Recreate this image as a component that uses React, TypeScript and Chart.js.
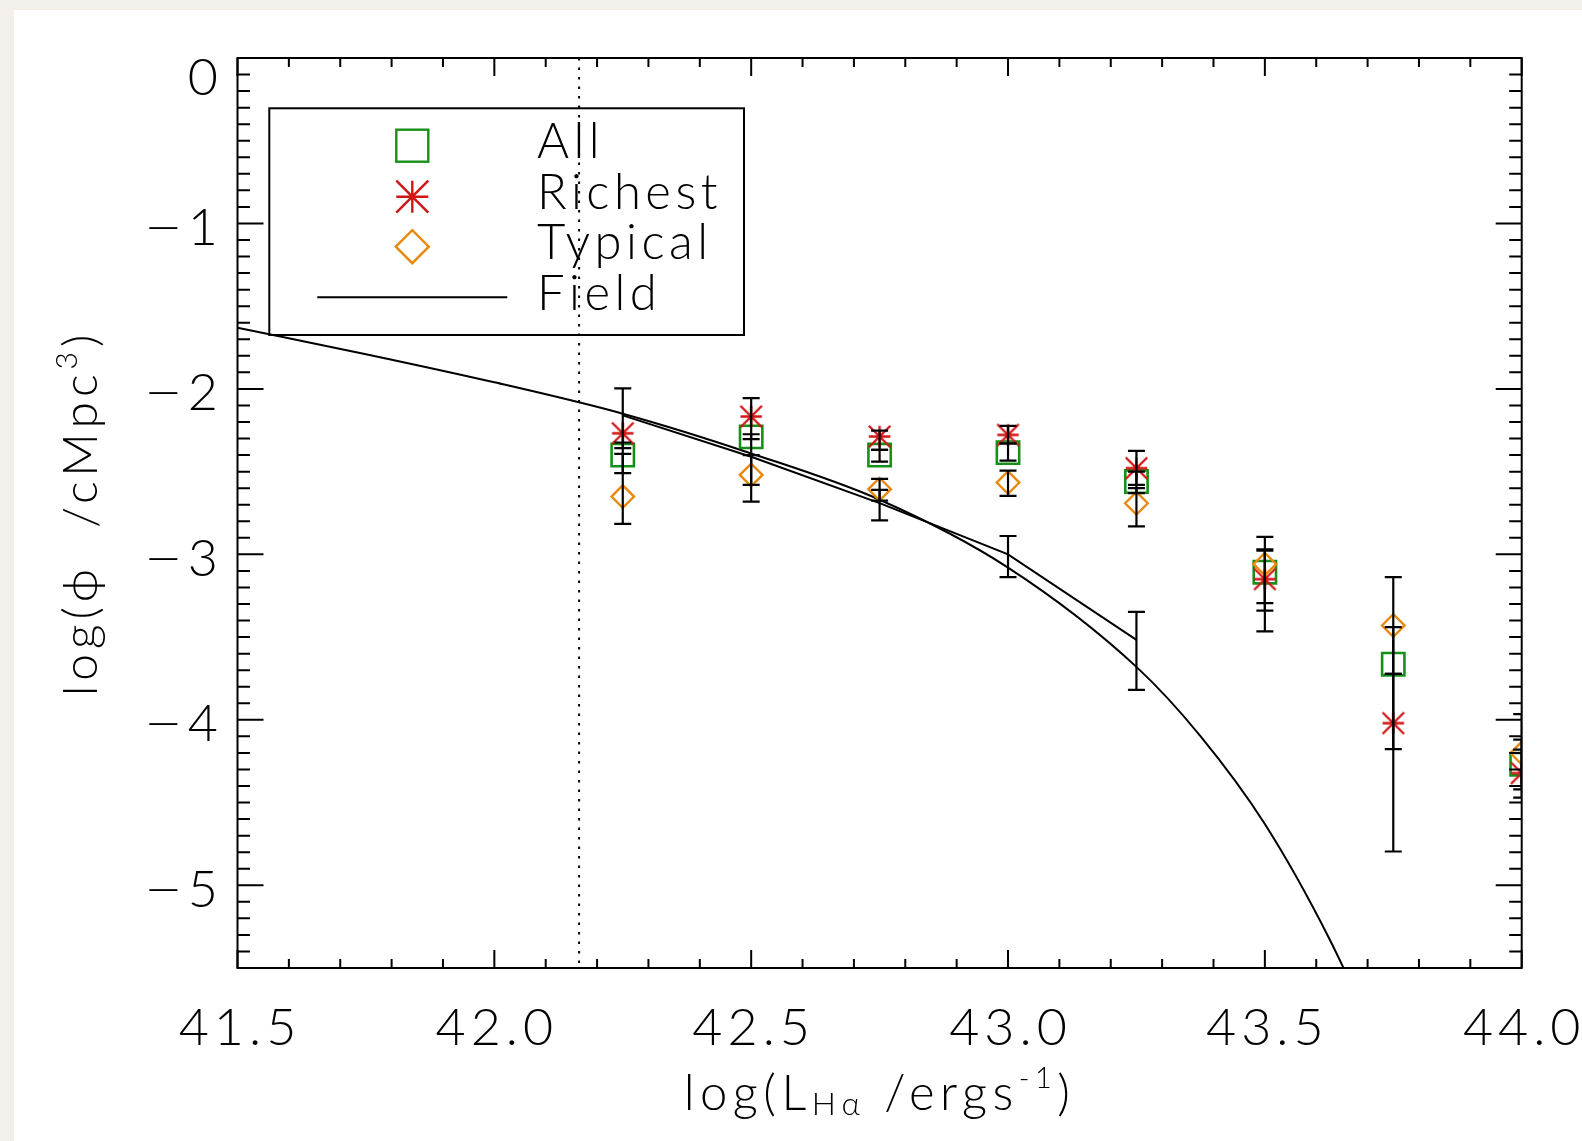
import { useEffect, useRef } from 'react';
import { Chart, registerables } from 'chart.js';

Chart.register(...registerables);

// ---------- data ----------
const binCentres = [42.25, 42.5, 42.75, 43.0, 43.25, 43.5, 43.75, 44.0];

const allValues = [-2.40, -2.29, -2.40, -2.385, -2.56, -3.108, -3.664, -4.268];
const allErrHigh = [-2.324, -2.274, -2.369, -2.33, -2.50, -2.969, -3.44, -4.12];
const allErrLow = [-2.509, -2.58, -2.439, -2.433, -2.63, -3.34, -4.177, -4.42];

const richestValues = [-2.268, -2.167, -2.288, -2.278, -2.479, -3.15, -4.02, -4.322];
const richestErrHigh = [-1.997, -2.056, -2.252, -2.224, -2.375, -2.977, -3.722, -4.18];
const richestErrLow = [-2.358, -2.304, -2.369, -2.33, -2.58, -3.466, -4.796, -4.47];

const typicalValues = [-2.651, -2.52, -2.606, -2.566, -2.691, -3.059, -3.43, -4.201];
const typicalErrHigh = [-2.393, -2.40, -2.544, -2.494, -2.60, -2.894, -3.138, -3.966];
const typicalErrLow = [-2.816, -2.681, -2.675, -2.647, -2.831, -3.295, -3.722, -4.40];

const fieldX = [42.25, 42.5, 42.75, 43.0, 43.25];
const fieldValues = [-2.16, -2.41, -2.69, -3.0, -3.517];
const fieldErrHigh = [null, null, -2.61, -2.889, -3.347];
const fieldErrLow = [null, null, -2.795, -3.137, -3.819];

const fitX = [41.5, 41.75, 42.0, 42.25, 42.5, 42.75, 43.0, 43.25, 43.375, 43.5, 43.625, 43.75];
const fitValues = [-1.63, -1.79, -1.96, -2.15, -2.39, -2.67, -3.08, -3.68, -4.10, -4.63, -5.32, -6.16];

const completenessLimit = 42.165;

const xTickValues = [41.5, 42.0, 42.5, 43.0, 43.5, 44.0];
const xTickLabels = ['41.5', '42.0', '42.5', '43.0', '43.5', '44.0'];
const yTickValues = [0, -1, -2, -3, -4, -5];
const yTickLabels = ['0', '1', '2', '3', '4', '5'];

const legendLabels = ['All', 'Richest', 'Typical', 'Field'];

// ---------- styles ----------
const GREEN = '#17901a';
const RED = '#d21414';
const ORANGE = '#e8890e';
const FAMILY = "Lato, 'DejaVu Sans', sans-serif";
const WEIGHT = '300';

function makeStar(size: number, color: string, lw: number) {
  const c = document.createElement('canvas');
  const pad = 2;
  c.width = size + pad * 2;
  c.height = size + pad * 2;
  const g = c.getContext('2d')!;
  const m = c.width / 2;
  const h = size / 2;
  g.strokeStyle = color;
  g.lineWidth = lw;
  g.beginPath();
  g.moveTo(m - h, m); g.lineTo(m + h, m);
  g.moveTo(m, m - h); g.lineTo(m, m + h);
  g.moveTo(m - h, m - h); g.lineTo(m + h, m + h);
  g.moveTo(m - h, m + h); g.lineTo(m + h, m - h);
  g.stroke();
  return c;
}

function drawStar(ctx: CanvasRenderingContext2D, x: number, y: number, h: number) {
  ctx.beginPath();
  ctx.moveTo(x - h, y); ctx.lineTo(x + h, y);
  ctx.moveTo(x, y - h); ctx.lineTo(x, y + h);
  ctx.moveTo(x - h, y - h); ctx.lineTo(x + h, y + h);
  ctx.moveTo(x - h, y + h); ctx.lineTo(x + h, y - h);
  ctx.stroke();
}

type Part = { t: string; s: number; dy: number };

function richWidth(ctx: CanvasRenderingContext2D, parts: Part[]) {
  let w = 0;
  for (const p of parts) {
    ctx.font = `${WEIGHT} ${p.s}px ${FAMILY}`;
    w += ctx.measureText(p.t).width;
  }
  return w;
}

function drawRich(ctx: CanvasRenderingContext2D, parts: Part[], cx: number, baseY: number) {
  const total = richWidth(ctx, parts);
  let x = cx - total / 2;
  ctx.textAlign = 'left';
  ctx.textBaseline = 'alphabetic';
  for (const p of parts) {
    ctx.font = `${WEIGHT} ${p.s}px ${FAMILY}`;
    ctx.fillText(p.t, x, baseY + p.dy);
    x += ctx.measureText(p.t).width;
  }
}

const idlPlugin = {
  id: 'idlStyle',
  beforeDraw(chart: any) {
    const ctx = chart.ctx as CanvasRenderingContext2D;
    ctx.save();
    ctx.fillStyle = '#f3f0eb';
    ctx.fillRect(0, 0, chart.width, chart.height);
    ctx.fillStyle = '#ffffff';
    ctx.fillRect(14, 10, chart.width - 14, chart.height - 10);
    ctx.restore();
  },
  beforeDatasetsDraw(chart: any) {
    const ctx = chart.ctx as CanvasRenderingContext2D;
    const a = chart.chartArea;
    const px = chart.scales.x.getPixelForValue(completenessLimit);
    ctx.save();
    ctx.strokeStyle = '#000';
    ctx.lineWidth = 2;
    ctx.setLineDash([2.5, 7]);
    ctx.beginPath();
    ctx.moveTo(px, a.top);
    ctx.lineTo(px, a.bottom);
    ctx.stroke();
    ctx.restore();
  },
  afterDatasetsDraw(chart: any) {
    const ctx = chart.ctx as CanvasRenderingContext2D;
    const a = chart.chartArea;
    const xs = chart.scales.x;
    const ys = chart.scales.y;

    // error bars
    ctx.save();
    ctx.beginPath();
    ctx.rect(a.left, a.top, a.right - a.left, a.bottom - a.top);
    ctx.clip();
    ctx.strokeStyle = '#000';
    ctx.lineWidth = 2.2;
    const cap = 8.5;
    const bar = (xv: number, hi: number | null, lo: number | null) => {
      if (hi === null || lo === null) return;
      const px = xs.getPixelForValue(xv);
      const p1 = ys.getPixelForValue(hi);
      const p2 = ys.getPixelForValue(lo);
      ctx.beginPath();
      ctx.moveTo(px, p1); ctx.lineTo(px, p2);
      ctx.moveTo(px - cap, p1); ctx.lineTo(px + cap, p1);
      ctx.moveTo(px - cap, p2); ctx.lineTo(px + cap, p2);
      ctx.stroke();
    };
    binCentres.forEach((xv, i) => {
      bar(xv, allErrHigh[i], allErrLow[i]);
      bar(xv, richestErrHigh[i], richestErrLow[i]);
      bar(xv, typicalErrHigh[i], typicalErrLow[i]);
    });
    fieldX.forEach((xv, i) => bar(xv, fieldErrHigh[i], fieldErrLow[i]));
    ctx.restore();

    // frame and ticks
    ctx.save();
    ctx.strokeStyle = '#000';
    ctx.lineWidth = 2;
    ctx.strokeRect(a.left, a.top, a.right - a.left, a.bottom - a.top);
    ctx.beginPath();
    for (let k = 0; k <= 25; k++) {
      const v = 41.5 + k * 0.1;
      const px = xs.getPixelForValue(v);
      const len = k % 5 === 0 ? 18 : 9;
      ctx.moveTo(px, a.bottom); ctx.lineTo(px, a.bottom - len);
      ctx.moveTo(px, a.top); ctx.lineTo(px, a.top + len);
    }
    for (let k = 0; k <= 55; k++) {
      const v = -k * 0.1;
      const py = ys.getPixelForValue(v);
      const len = k % 10 === 0 ? 26 : 12.5;
      ctx.moveTo(a.left, py); ctx.lineTo(a.left + len, py);
      ctx.moveTo(a.right, py); ctx.lineTo(a.right - len, py);
    }
    ctx.stroke();

    // tick labels
    ctx.fillStyle = '#000';
    ctx.font = `${WEIGHT} 52px ${FAMILY}`;
    (ctx as any).letterSpacing = '5px';
    ctx.textBaseline = 'alphabetic';
    ctx.textAlign = 'center';
    xTickValues.forEach((v, i) => {
      ctx.fillText(xTickLabels[i], xs.getPixelForValue(v) + 2.5, 1045);
    });
    (ctx as any).letterSpacing = '0px';
    yTickValues.forEach((v, i) => {
      const py = ys.getPixelForValue(v);
      const base = Math.max(py + 21.5, a.top + 37);
      ctx.textAlign = 'right';
      ctx.fillText(yTickLabels[i], 218, base);
      if (v < 0) {
        const dw = ctx.measureText(yTickLabels[i]).width;
        ctx.save();
        ctx.translate(218 - dw - 5, base);
        ctx.scale(1.3, 1);
        ctx.fillText('\u2212', 0, 0);
        ctx.restore();
      }
    });

    // axis titles
    (ctx as any).letterSpacing = '5.5px';
    drawRich(ctx, [
      { t: 'log(L', s: 49, dy: 0 },
      { t: 'H\u03b1', s: 32, dy: 5 },
      { t: ' /ergs', s: 49, dy: 0 },
      { t: '-1', s: 29, dy: -22 },
      { t: ')', s: 49, dy: 0 },
    ], (a.left + a.right) / 2, 1110);

    ctx.save();
    ctx.translate(97, (a.top + a.bottom) / 2);
    ctx.rotate(-Math.PI / 2);
    (ctx as any).letterSpacing = '5px';
    drawRich(ctx, [
      { t: 'log(\u03d5  /cMpc', s: 48, dy: 0 },
      { t: '3', s: 30, dy: -20 },
      { t: ')', s: 48, dy: 0 },
    ], 0, 0);
    ctx.restore();

    // legend
    ctx.lineWidth = 2;
    ctx.strokeStyle = '#000';
    ctx.strokeRect(269.3, 108.3, 744 - 269.3, 335 - 108.3);
    const mx = 412.3;
    const rowY = [145.7, 196.7, 246.7, 297.3];
    ctx.lineWidth = 2.4;
    ctx.strokeStyle = GREEN;
    ctx.strokeRect(mx - 16, rowY[0] - 16, 32, 32);
    ctx.strokeStyle = RED;
    drawStar(ctx, mx, rowY[1], 16);
    ctx.strokeStyle = ORANGE;
    ctx.beginPath();
    ctx.moveTo(mx - 16.5, rowY[2]); ctx.lineTo(mx, rowY[2] - 16.5);
    ctx.lineTo(mx + 16.5, rowY[2]); ctx.lineTo(mx, rowY[2] + 16.5);
    ctx.closePath();
    ctx.stroke();
    ctx.strokeStyle = '#000';
    ctx.lineWidth = 2;
    ctx.beginPath();
    ctx.moveTo(317.3, rowY[3]); ctx.lineTo(507.3, rowY[3]);
    ctx.stroke();

    ctx.fillStyle = '#000';
    ctx.font = `${WEIGHT} 49px ${FAMILY}`;
    (ctx as any).letterSpacing = '4.5px';
    ctx.textAlign = 'left';
    ctx.textBaseline = 'alphabetic';
    const baselines = [158.3, 209.3, 259.3, 310];
    legendLabels.forEach((t, i) => ctx.fillText(t, 537, baselines[i]));
    ctx.restore();
  },
};

export default function App() {
  const ref = useRef<HTMLCanvasElement>(null);
  useEffect(() => {
    const canvas = ref.current;
    if (!canvas) return;
    const starImg = makeStar(21.5, RED, 2.3);
    const chart = new Chart(canvas, {
      type: 'scatter',
      data: {
        datasets: [
          {
            label: 'Typical',
            data: binCentres.map((x, i) => ({ x, y: typicalValues[i] })),
            pointStyle: 'rectRot',
            pointRadius: 11.3,
            pointBorderWidth: 2.4,
            pointBorderColor: ORANGE,
            pointBackgroundColor: 'rgba(0,0,0,0)',
            showLine: false,
            clip: 0,
            order: 1,
          },
          {
            label: 'Richest',
            data: binCentres.map((x, i) => ({ x, y: richestValues[i] })),
            pointStyle: starImg,
            pointRadius: 11,
            showLine: false,
            clip: 0,
            order: 2,
          },
          {
            label: 'All',
            data: binCentres.map((x, i) => ({ x, y: allValues[i] })),
            pointStyle: 'rect',
            pointRadius: 15.8,
            pointBorderWidth: 2.6,
            pointBorderColor: GREEN,
            pointBackgroundColor: 'rgba(0,0,0,0)',
            showLine: false,
            clip: 0,
            order: 3,
          },
          {
            label: 'Field data',
            data: fieldX.map((x, i) => ({ x, y: fieldValues[i] })),
            showLine: true,
            borderColor: '#000',
            borderWidth: 2,
            pointRadius: 0,
            tension: 0,
            clip: 0,
            order: 4,
          },
          {
            label: 'Field',
            data: fitX.map((x, i) => ({ x, y: fitValues[i] })),
            showLine: true,
            borderColor: '#000',
            borderWidth: 2,
            pointRadius: 0,
            cubicInterpolationMode: 'monotone',
            clip: 0,
            order: 5,
          },
        ] as any,
      },
      options: {
        responsive: false,
        animation: false,
        devicePixelRatio: 1,
        events: [],
        layout: { padding: { left: 237.5, top: 58, right: 60.3, bottom: 173 } },
        plugins: { legend: { display: false }, tooltip: { enabled: false } },
        scales: {
          x: { type: 'linear', min: 41.5, max: 44.0, display: false },
          y: { type: 'linear', min: -5.5, max: 0, display: false },
        },
      },
      plugins: [idlPlugin as any],
    });
    return () => chart.destroy();
  }, []);
  return (
    <div style={{ position: 'fixed', left: 0, top: 0, width: 1582, height: 1141 }}>
      <canvas ref={ref} width={1582} height={1141} style={{ display: 'block' }} />
    </div>
  );
}
